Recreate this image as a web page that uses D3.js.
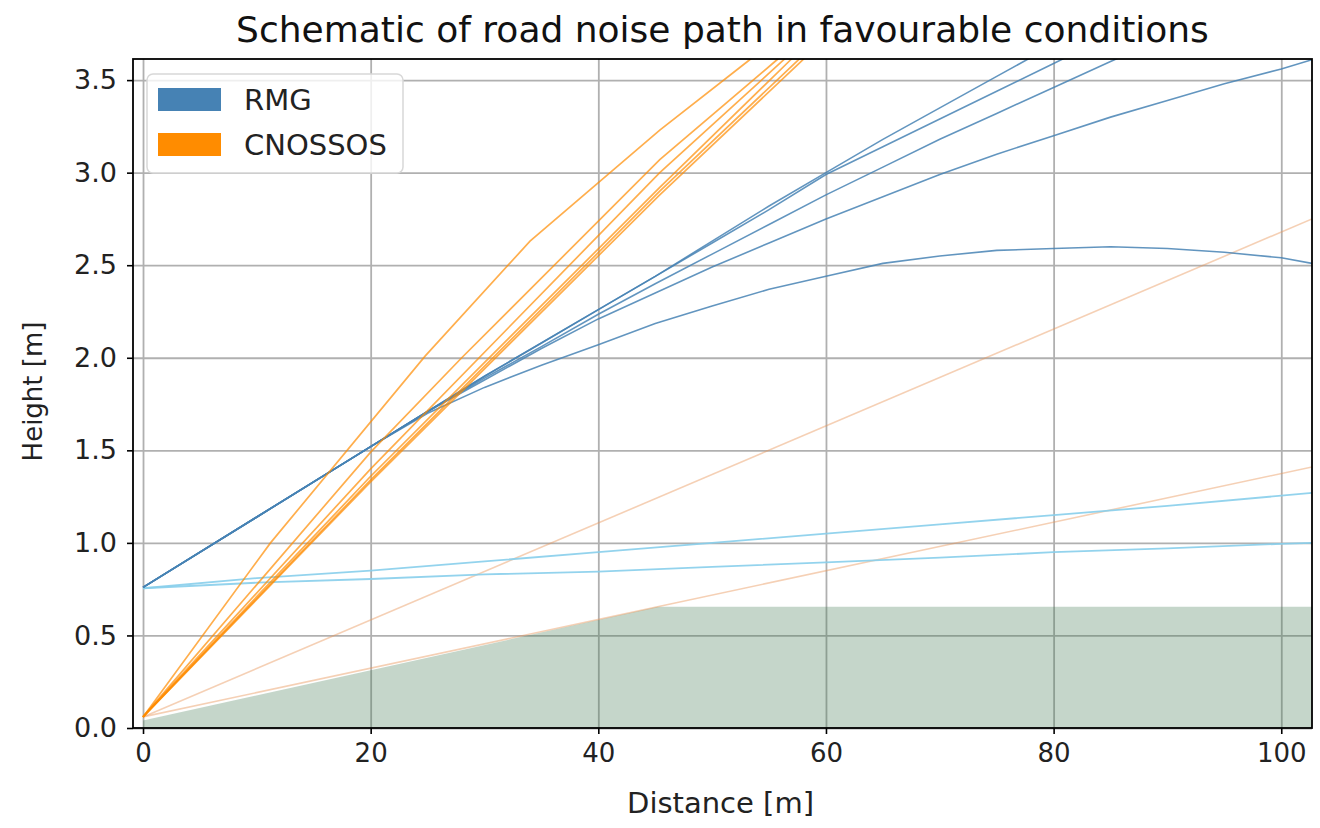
<!DOCTYPE html>
<html>
<head>
<meta charset="utf-8">
<script src="https://cdn.jsdelivr.net/npm/d3@7"></script>
<style>
  html, body { margin: 0; padding: 0; background: #fff; }
  #chart { width: 1320px; height: 828px; }
</style>
</head>
<body>
<div id="chart"></div>
<script>
// ticks
const xTicks = [0, 20, 40, 60, 80, 100];
const yTicks = [0, 0.5, 1.0, 1.5, 2.0, 2.5, 3.0, 3.5];

// ground profile (filled)
const groundX = [0, 45.2, 102.7];
const groundY = [0.04, 0.655, 0.655];

// RMG rays (curved), source at 0.76 m
const rmgX = [0, 10, 20, 25, 30, 35, 40, 45, 50, 55, 60, 65, 70, 75, 80, 85, 90, 95, 100, 102.7];
const rmgA = [0.76, 1.14, 1.52, 1.71, 1.90, 2.08, 2.26, 2.44, 2.63, 2.82, 3.00, 3.18, 3.35, 3.52, 3.69];
const rmgB = [0.76, 1.14, 1.52, 1.71, 1.90, 2.08, 2.26, 2.44, 2.62, 2.80, 2.99, 3.14, 3.29, 3.44, 3.59, 3.74];
const rmgC = [0.76, 1.14, 1.52, 1.71, 1.89, 2.06, 2.235, 2.40, 2.56, 2.72, 2.88, 3.03, 3.18, 3.32, 3.46, 3.60, 3.74];
const rmgD = [0.76, 1.14, 1.52, 1.71, 1.88, 2.05, 2.21, 2.35, 2.49, 2.62, 2.75, 2.87, 2.99, 3.10, 3.20, 3.30, 3.39, 3.48, 3.56, 3.61];
const rmgE = [0.76, 1.14, 1.52, 1.70, 1.84, 1.96, 2.07, 2.185, 2.28, 2.37, 2.44, 2.51, 2.55, 2.58, 2.59, 2.60, 2.59, 2.57, 2.54, 2.51];

// RMG reflected rays (light blue)
const skyX = [0, 10, 20, 30, 40, 50, 60, 70, 80, 90, 100, 102.7];
const skyUpper = [0.755, 0.81, 0.85, 0.90, 0.95, 1.00, 1.05, 1.10, 1.15, 1.20, 1.255, 1.27];
const skyLower = [0.755, 0.785, 0.805, 0.83, 0.845, 0.87, 0.895, 0.92, 0.95, 0.97, 0.995, 1.0];

// CNOSSOS rays, source at 0.06 m
const cnX1 = [0, 11.2, 24.8, 34, 45.4, 53.3, 60];
const cnY1 = [0.06, 1.0, 2.01, 2.63, 3.23, 3.61, 3.94];
const cnX2 = [0, 20, 28, 45.4, 55.7, 60];
const cnY2 = [0.06, 1.49, 2.0, 3.07, 3.61, 3.83];
const cnX3 = [0, 20, 45.4, 56.3, 60];
const cnY3 = [0.06, 1.40, 3.00, 3.61, 3.82];
const cnX4 = [0, 20, 45.4, 56.9, 60];
const cnY4 = [0.06, 1.36, 2.92, 3.61, 3.79];
const cnX5 = [0, 20, 45.4, 57.6, 60];
const cnY5 = [0.06, 1.34, 2.90, 3.61, 3.75];
const cnX6 = [0, 20, 45.4, 57.8, 60];
const cnY6 = [0.06, 1.33, 2.88, 3.60, 3.73];

// CNOSSOS faint rays
const faintX1 = [0, 102.7];
const faintY1 = [0.06, 2.75];
const faintX2 = [0, 45.2, 102.7];
const faintY2 = [0.06, 0.655, 1.41];

const legendLabels = ["RMG", "CNOSSOS"];

const W = 1320, H = 828;
const m = { top: 59, right: 8, bottom: 100, left: 133 };
const iw = W - m.left - m.right, ih = H - m.top - m.bottom;
const font = "'DejaVu Sans', sans-serif";

const svg = d3.select("#chart").append("svg")
  .attr("width", W).attr("height", H)
  .style("font-family", font);

const x = d3.scaleLinear().domain([-0.88, 102.7]).range([0, iw]);
const y = d3.scaleLinear().domain([0, 3.614]).range([ih, 0]);

const g = svg.append("g").attr("transform", `translate(${m.left},${m.top})`);

svg.append("defs").append("clipPath").attr("id", "clip")
  .append("rect").attr("width", iw).attr("height", ih);

// grid
g.append("g")
  .call(d3.axisBottom(x).tickValues(xTicks).tickSize(ih).tickFormat(""))
  .call(s => s.select(".domain").remove())
  .selectAll("line").attr("stroke", "#b0b0b0").attr("stroke-width", 1.8);
g.append("g")
  .call(d3.axisLeft(y).tickValues(yTicks).tickSize(-iw).tickFormat(""))
  .call(s => s.select(".domain").remove())
  .selectAll("line").attr("stroke", "#b0b0b0").attr("stroke-width", 1.8);

const plot = g.append("g").attr("clip-path", "url(#clip)");

// ground
const area = d3.area().x(d => x(d[0])).y0(y(0)).y1(d => y(d[1]));
plot.append("path")
  .datum(d3.zip(groundX, groundY))
  .attr("d", area)
  .attr("fill", "rgb(62,118,78)")
  .attr("fill-opacity", 0.3);

const line = d3.line().x(d => x(d[0])).y(d => y(d[1]));
function draw(xs, ys, color, width, opacity) {
  plot.append("path")
    .datum(d3.zip(xs, ys))
    .attr("d", line)
    .attr("fill", "none")
    .attr("stroke", color)
    .attr("stroke-width", width)
    .attr("stroke-opacity", opacity);
}

draw(faintX1, faintY1, "#e8965a", 1.6, 0.45);
draw(faintX2, faintY2, "#e8965a", 1.6, 0.45);

draw(skyX, skyUpper, "#87ceeb", 1.8, 0.9);
draw(skyX, skyLower, "#87ceeb", 1.8, 0.9);

[rmgA, rmgB, rmgC, rmgD, rmgE].forEach(s => draw(rmgX, s, "#4682b4", 1.6, 0.85));

[[cnX1, cnY1], [cnX2, cnY2], [cnX3, cnY3], [cnX4, cnY4], [cnX5, cnY5], [cnX6, cnY6]]
  .forEach(([xs, ys]) => draw(xs, ys, "#ff8c00", 1.7, 0.7));

// axes
const xa = g.append("g").attr("transform", `translate(0,${ih})`)
  .call(d3.axisBottom(x).tickValues(xTicks).tickSize(6).tickPadding(10).tickFormat(d3.format("d")));
const ya = g.append("g")
  .call(d3.axisLeft(y).tickValues(yTicks).tickSize(6).tickPadding(10).tickFormat(d3.format(".1f")));
[xa, ya].forEach(a => {
  a.select(".domain").remove();
  a.selectAll(".tick line").attr("stroke", "#000").attr("stroke-width", 1.6);
  a.selectAll("text").attr("fill", "#222").attr("font-family", font);
});
xa.selectAll("text").attr("font-size", 26);
ya.selectAll("text").attr("font-size", 27);

// spines
g.append("rect").attr("width", iw).attr("height", ih)
  .attr("fill", "none").attr("stroke", "#000").attr("stroke-width", 1.8);

// labels
svg.append("text").attr("x", m.left + iw / 2).attr("y", 42)
  .attr("text-anchor", "middle").attr("font-size", 36).attr("fill", "#111")
  .text("Schematic of road noise path in favourable conditions");
svg.append("text").attr("x", m.left + iw / 2 - 2).attr("y", 813)
  .attr("text-anchor", "middle").attr("font-size", 29).attr("fill", "#222")
  .text("Distance [m]");
svg.append("text").attr("transform", `translate(42,${m.top + ih / 2 - 2}) rotate(-90)`)
  .attr("text-anchor", "middle").attr("font-size", 26).attr("fill", "#222")
  .text("Height [m]");

// legend
const lg = svg.append("g").attr("transform", "translate(147,74)");
lg.append("rect").attr("width", 256).attr("height", 99).attr("rx", 6)
  .attr("fill", "#fff").attr("fill-opacity", 0.8)
  .attr("stroke", "#d8d8d8").attr("stroke-width", 1.5);
const legendColors = ["#4682b4", "#ff8c00"];
legendLabels.forEach((lab, i) => {
  lg.append("rect").attr("x", 11).attr("y", 14 + i * 45).attr("width", 63).attr("height", 23)
    .attr("fill", legendColors[i]);
  lg.append("text").attr("x", 97).attr("y", 36 + i * 45)
    .attr("font-size", 29).attr("fill", "#222").text(lab);
});
</script>
</body>
</html>
